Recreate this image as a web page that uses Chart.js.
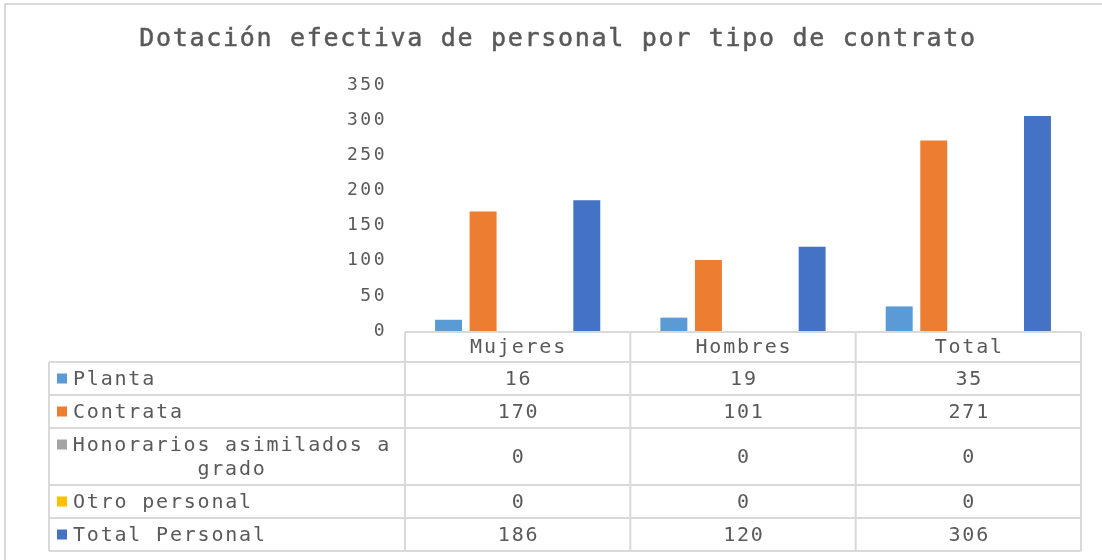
<!DOCTYPE html>
<html>
<head>
<meta charset="utf-8">
<script src="https://cdn.jsdelivr.net/npm/chart.js@4"></script>
<style>
  html, body { margin: 0; padding: 0; background: #fff; }
  canvas { display: block; }
</style>
</head>
<body>
<canvas id="chart" width="1102" height="560"></canvas>
<script>
const chartTitle = 'Dotación efectiva de personal por tipo de contrato';
const categories = ['Mujeres', 'Hombres', 'Total'];
const seriesNames = ['Planta', 'Contrata', 'Honorarios asimilados a grado', 'Otro personal', 'Total Personal'];
const planta = [16, 19, 35];
const contrata = [170, 101, 271];
const honorarios = [0, 0, 0];
const otroPersonal = [0, 0, 0];
const totalPersonal = [186, 120, 306];
const yTicks = [0, 50, 100, 150, 200, 250, 300, 350];

const seriesValues = [planta, contrata, honorarios, otroPersonal, totalPersonal];
const colors = ['#5B9BD5', '#ED7D31', '#A5A5A5', '#FFC000', '#4472C4'];
const textColor = '#595959';
const lineColor = '#D9D9D9';
const monoFont = '"DejaVu Sans Mono", "Liberation Mono", monospace';

// split a label into lines that fit the legend column
function wrapText(ctx, text, maxWidth) {
  const words = text.split(' ');
  const lines = [];
  let cur = '';
  words.forEach(function(w) {
    const test = cur ? cur + ' ' + w : w;
    if (cur && ctx.measureText(test).width > maxWidth) {
      lines.push(cur);
      cur = w;
    } else {
      cur = test;
    }
  });
  if (cur) lines.push(cur);
  return lines;
}

const framePlugin = {
  id: 'frame',
  beforeDraw(chart) {
    const ctx = chart.ctx;
    ctx.save();
    ctx.strokeStyle = lineColor;
    ctx.lineWidth = 2;
    ctx.beginPath();
    ctx.moveTo(5, 560);
    ctx.lineTo(5, 4);
    ctx.lineTo(1102, 4);
    ctx.stroke();

    ctx.font = '25px ' + monoFont;
    ctx.letterSpacing = '1.7px';
    ctx.fillStyle = textColor;
    ctx.strokeStyle = textColor;
    ctx.lineWidth = 0.5;
    ctx.textAlign = 'center';
    ctx.textBaseline = 'middle';
    ctx.fillText(chartTitle, 558, 39);
    ctx.strokeText(chartTitle, 558, 39);
    ctx.restore();
    // spacing for the axis labels drawn next
    ctx.letterSpacing = '2.5px';
  },
  afterDraw(chart) {
    const ctx = chart.ctx;
    const area = chart.chartArea;
    const xs = chart.scales.x;
    const catW = area.width / categories.length;
    const tableLeft = 49;
    const tableRight = area.right;
    const headerTop = area.bottom + 1;
    const headerH = 30;
    const rowH = 33;
    const lineH = 24;
    const textLeft = 73;
    const textRight = area.left - 8;
    const spacing = 1.8;

    ctx.save();
    ctx.font = '20px ' + monoFont;
    ctx.letterSpacing = spacing + 'px';
    ctx.fillStyle = textColor;
    ctx.textBaseline = 'middle';

    const rows = seriesNames.map(function(name) {
      return wrapText(ctx, name, textRight - textLeft);
    });
    const heights = rows.map(function(lines) { return rowH + (lines.length - 1) * lineH; });
    const bottom = headerTop + headerH + heights.reduce(function(a, b) { return a + b; }, 0);

    // grid lines
    ctx.strokeStyle = lineColor;
    ctx.lineWidth = 2;
    ctx.beginPath();
    ctx.moveTo(area.left, headerTop);
    ctx.lineTo(tableRight, headerTop);
    let y = headerTop + headerH;
    ctx.moveTo(tableLeft, y);
    ctx.lineTo(tableRight, y);
    heights.forEach(function(h) {
      y += h;
      ctx.moveTo(tableLeft, y);
      ctx.lineTo(tableRight, y);
    });
    ctx.moveTo(tableLeft, headerTop + headerH);
    ctx.lineTo(tableLeft, bottom);
    ctx.moveTo(area.left, headerTop);
    ctx.lineTo(area.left, bottom);
    categories.forEach(function(c, i) {
      const bx = xs.getPixelForValue(i) + catW / 2;
      ctx.moveTo(bx, headerTop);
      ctx.lineTo(bx, bottom);
    });
    ctx.stroke();

    // header
    ctx.textAlign = 'center';
    categories.forEach(function(c, i) {
      ctx.fillText(c, xs.getPixelForValue(i) + spacing / 2, headerTop + headerH / 2 + 1);
    });

    // rows
    y = headerTop + headerH;
    rows.forEach(function(lines, r) {
      const h = heights[r];
      const cy = y + h / 2 + 1;
      const firstY = cy - (lines.length - 1) / 2 * lineH;
      ctx.fillStyle = colors[r];
      ctx.fillRect(57, firstY - 6, 10, 10);
      ctx.fillStyle = textColor;
      if (lines.length === 1) {
        ctx.textAlign = 'left';
        ctx.fillText(lines[0], textLeft, cy);
      } else {
        ctx.textAlign = 'center';
        const mid = (textLeft + textRight) / 2 - 3;
        lines.forEach(function(line, k) {
          ctx.fillText(line, mid, firstY + k * lineH);
        });
      }
      ctx.textAlign = 'center';
      seriesValues[r].forEach(function(v, i) {
        ctx.fillText(String(v), xs.getPixelForValue(i) + spacing / 2, cy);
      });
      y += h;
    });
    ctx.restore();
  }
};

new Chart(document.getElementById('chart'), {
  type: 'bar',
  data: {
    labels: categories,
    datasets: seriesNames.map(function(name, i) {
      return {
        label: name,
        data: seriesValues[i],
        backgroundColor: colors[i],
        borderWidth: 0,
        categoryPercentage: 0.767,
        barPercentage: 0.78
      };
    })
  },
  options: {
    responsive: false,
    animation: false,
    layout: { padding: { left: 325, right: 21, top: 85, bottom: 229 } },
    plugins: {
      legend: { display: false },
      title: { display: false },
      tooltip: { enabled: false }
    },
    scales: {
      x: { display: false },
      y: {
        min: 0,
        max: 350,
        afterFit: function(scale) { scale.width = 80; },
        afterBuildTicks: function(scale) {
          scale.ticks = yTicks.map(function(v) { return { value: v }; });
        },
        grid: { display: false, drawTicks: false },
        border: { display: false },
        ticks: {
          padding: 18,
          color: textColor,
          font: { family: monoFont, size: 18 }
        }
      }
    }
  },
  plugins: [framePlugin]
});
</script>
</body>
</html>
